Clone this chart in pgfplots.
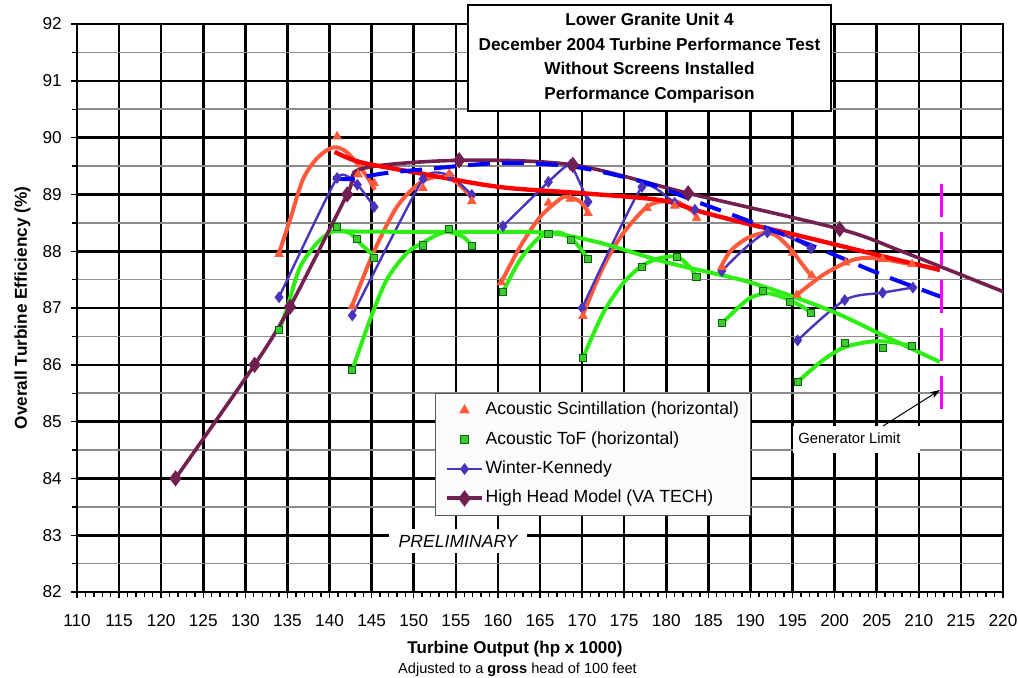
\documentclass[border=0pt]{standalone}
\usepackage{fontspec}
\setmainfont{Liberation Sans}
\usepackage{pgfplots}
\pgfplotsset{compat=1.18}
\usetikzlibrary{arrows.meta}
\definecolor{asc}{HTML}{FF5A3C}
\definecolor{tofl}{HTML}{2EEE14}
\definecolor{toff}{HTML}{3CCB2D}
\definecolor{tofe}{HTML}{0A640A}
\definecolor{wk}{HTML}{4B33BB}
\definecolor{hh}{HTML}{722050}
\definecolor{mag}{HTML}{FF00FF}
\begin{document}
\begin{tikzpicture}
\path[use as bounding box] (0,0) rectangle (509.5pt,338.5pt);
\begin{axis}[
  at={(38.5pt,42.5pt)}, anchor=south west,
  scale only axis, width=463pt, height=284pt,
  xmin=110, xmax=220, ymin=82, ymax=92,
  xtick={110,115,...,220}, ytick={82,83,...,92},
  minor x tick num=4, minor y tick num=1,
  xmajorgrids, ymajorgrids, yminorgrids,
  major grid style={black, line width=1.3pt},
  minor grid style={black!45, line width=0.75pt},
  axis line style={black, line width=1.3pt},
  tick align=outside, xtick pos=bottom, ytick pos=left,
  major tick length=3pt, minor tick length=2.5pt,
  tick style={black, line width=0.7pt},
  ticklabel style={font=\fontsize{8.6}{10}\selectfont},
  /pgf/number format/assume math mode=true,
  xticklabel style={yshift=-4.6pt},
  yticklabel style={xshift=-1.1pt},
  legend cell align=left,
  legend style={at={(0.3866,0.3504)}, anchor=north west, draw=black!65, line width=0.5pt,
    fill=black!1.5, font=\fontsize{8.8}{10.5}\selectfont, inner xsep=5pt, inner ysep=2.5pt,
    row sep=2.9pt, nodes={inner xsep=1pt, inner ysep=1.5pt, text height=6.6pt, text depth=2.2pt}},
]
% Acoustic Scintillation fitted curves
\addplot[asc, line width=2pt, smooth, no marks, forget plot] coordinates {(134,87.97) (135.3,88.55) (136.8,89.25) (138.3,89.6) (139.7,89.78) (140.8,89.83) (142,89.75) (143.4,89.52) (144.5,89.3) (145.4,89.08)};
\addplot[asc, line width=2pt, smooth, no marks, forget plot] coordinates {(142.7,87.05) (145.2,87.97) (148,88.78) (150.7,89.2) (152.8,89.31) (154.7,89.25) (156.3,89.04) (156.9,88.93)};
\addplot[asc, line width=2pt, smooth, no marks, forget plot] coordinates {(160.3,87.42) (162.6,88.07) (165,88.6) (167.4,88.92) (168.3,88.96) (169.8,88.87) (170.7,88.69)};
\addplot[asc, line width=2pt, smooth, no marks, forget plot] coordinates {(170.1,86.88) (172.5,87.72) (174.9,88.32) (177.7,88.78) (179.6,88.88) (181.3,88.87) (183.2,88.69) (183.8,88.55)};
\addplot[asc, line width=2pt, smooth, no marks, forget plot] coordinates {(186.5,87.72) (187.6,88.0) (189.5,88.22) (191.5,88.32) (193,88.28) (194.7,88.05) (196,87.8) (197.3,87.55)};
\addplot[asc, line width=2pt, smooth, no marks, forget plot] coordinates {(195.5,87.23) (198.6,87.58) (201.5,87.81) (203.4,87.88) (205.7,87.86) (208,87.8) (209.2,87.77)};
% Acoustic ToF fitted curves
\addplot[tofl, line width=2pt, smooth, no marks, forget plot] coordinates {(134,86.6) (135,87.02) (136.5,87.72) (138.5,88.14) (140,88.32) (140.9,88.36) (142.4,88.32) (143.9,88.1) (145.2,87.93)};
\addplot[tofl, line width=2pt, smooth, no marks, forget plot] coordinates {(142.7,85.91) (144.8,86.79) (146.8,87.5) (149.2,87.97) (151.1,88.15) (152.8,88.29) (154.1,88.34) (155.9,88.25) (156.9,88.09)};
\addplot[tofl, line width=2pt, smooth, no marks, forget plot] coordinates {(160.6,87.28) (162.6,87.84) (165,88.25) (167.2,88.33) (168.7,88.22) (169.8,88.05) (170.7,87.86)};
\addplot[tofl, line width=2pt, smooth, no marks, forget plot] coordinates {(170.1,86.12) (172.5,86.91) (174.9,87.44) (177.1,87.74) (179.3,87.88) (181.3,87.9) (182.8,87.72) (183.6,87.54)};
\addplot[tofl, line width=2pt, smooth, no marks, forget plot] coordinates {(186.6,86.73) (188.5,87.0) (190,87.18) (192,87.26) (194,87.18) (196.2,87.02) (197.2,86.92)};
\addplot[tofl, line width=2pt, smooth, no marks, forget plot] coordinates {(195.6,85.7) (198.6,86.08) (201.2,86.31) (204.4,86.41) (206.8,86.4) (209.2,86.33)};
% Winter-Kennedy
\addplot[wk, line width=1.2pt, smooth, tension=0.3, mark=diamond*, mark size=2pt, forget plot] coordinates {(134.0,87.19) (140.9,89.29) (143.3,89.17) (145.3,88.78)};
\addplot[wk, line width=1.2pt, smooth, tension=0.3, mark=diamond*, mark size=2pt, forget plot] coordinates {(142.7,86.87) (151.1,89.27) (154.3,89.33) (156.9,88.99)};
\addplot[wk, line width=1.2pt, smooth, tension=0.3, mark=diamond*, mark size=2pt, forget plot] coordinates {(160.6,88.44) (166.0,89.22) (168.6,89.52) (170.7,88.87)};
\addplot[wk, line width=1.2pt, smooth, tension=0.3, mark=diamond*, mark size=2pt, forget plot] coordinates {(170.0,87.0) (177.1,89.13) (181.0,88.85) (183.4,88.73)};
\addplot[wk, line width=1.2pt, smooth, mark=diamond*, mark size=2pt, forget plot] coordinates {(186.6,87.65) (192.0,88.33) (197.2,88.05)};
\addplot[wk, line width=1.2pt, smooth, mark=diamond*, mark size=2pt, forget plot] coordinates {(195.6,86.43) (201.2,87.14) (205.7,87.27) (209.3,87.36)};
% High Head Model
\addplot[hh, line width=1.8pt, smooth, mark=diamond*, mark size=2.6pt, mark indices={1,2,3,4,6,7,8,9}, forget plot] coordinates {(121.7,84.0) (131.1,86.0) (135.3,87.02) (142.1,89.0) (143.8,89.45) (155.4,89.6) (168.9,89.52) (182.6,89.02) (200.6,88.39) (208.1,87.99) (221.5,87.2)};
% summary lines
\addplot[red, line width=2.2pt, smooth, no marks, forget plot] coordinates {(140.6,89.75) (143.6,89.57) (150.4,89.38) (160.2,89.13) (170.1,89.02) (179.3,88.9) (184,88.7) (190,88.47) (195,88.3) (200,88.12) (206,87.9) (212.5,87.67)};
\addplot[blue, line width=2pt, dash pattern=on 11pt off 6pt, smooth, no marks, forget plot] coordinates {(140.4,89.29) (142.4,89.27) (146.4,89.37) (150.4,89.43) (160.2,89.55) (168.9,89.49) (177.7,89.2) (184,88.85) (190,88.52) (198.6,88.02) (205.7,87.58) (213.7,87.14)};
\addplot[tofl, line width=2pt, smooth, no marks, forget plot] coordinates {(140.4,88.35) (150,88.34) (160.2,88.34) (166.2,88.32) (172.1,88.15) (180.1,87.8) (190,87.45) (199.4,86.96) (206,86.5) (212.5,86.05)};
% measured points
\addplot[only marks, mark=triangle*, mark size=2.4pt, color=asc, forget plot] coordinates {(134.0,87.95) (140.9,90.02) (143.4,89.35) (145.3,89.2) (142.7,87.03) (151.1,89.11) (154.2,89.36) (156.9,88.88) (160.4,87.45) (166.0,88.85) (168.6,88.92) (170.7,88.67) (170.1,86.86) (177.7,88.76) (181.0,88.8) (183.6,88.58) (186.6,87.72) (195.0,87.97) (197.3,87.57) (195.5,87.23) (201.3,87.8) (205.7,87.86) (209.2,87.77)};
\addplot[only marks, mark=square*, mark size=1.8pt, mark options={fill=toff, draw=tofe, line width=0.5pt}, forget plot] coordinates {(134.0,86.61) (140.9,88.43) (143.3,88.21) (145.3,87.88) (142.7,85.91) (151.1,88.1) (154.2,88.39) (156.9,88.09) (160.6,87.28) (166.0,88.3) (168.7,88.2) (170.7,87.86) (170.1,86.12) (177.1,87.72) (181.3,87.9) (183.6,87.54) (186.6,86.73) (191.5,87.3) (194.7,87.1) (197.2,86.91) (195.6,85.7) (201.2,86.38) (205.7,86.3) (209.2,86.33)};
% generator limit
\addplot[mag, line width=1.5pt, dash pattern=on 16.5pt off 7.5pt, forget plot] coordinates {(212.65,89.18) (212.65,85.15)};
% legend
\addlegendimage{only marks, mark=triangle*, mark size=2.6pt, color=asc}
\addlegendentry{Acoustic Scintillation (horizontal)}
\addlegendimage{only marks, mark=square*, mark size=2pt, mark options={fill=toff, draw=tofe, line width=0.5pt}}
\addlegendentry{Acoustic ToF (horizontal)}
\addlegendimage{wk, line width=1.2pt, mark=diamond*, mark size=2pt}
\addlegendentry{Winter-Kennedy}
\addlegendimage{hh, line width=2pt, mark=diamond*, mark size=2.5pt}
\addlegendentry{High Head Model (VA TECH)}
\end{axis}
% title box
\node[draw=black, line width=0.6pt, fill=white, minimum width=181.5pt, minimum height=53pt, align=center,
  font=\fontsize{8.6}{12.25}\selectfont\bfseries, inner sep=0pt] at (324.75pt,309.5pt)
  {Lower Granite Unit 4\\December 2004 Turbine Performance Test\\Without Screens Installed\\Performance Comparison};
% preliminary
\node[fill=white, minimum width=69pt, minimum height=12pt, inner sep=0pt, font=\fontsize{8.8}{10}\selectfont\itshape] at (229pt,68pt) {PRELIMINARY};
% generator limit label
\fill[white] (396.5pt,112pt) rectangle (460pt,125.5pt);
\node[anchor=west, font=\fontsize{7.4}{9}\selectfont, inner sep=0pt] at (399pt,119.5pt) {Generator Limit};
\draw[-{Stealth[length=5pt,width=3.5pt]}, line width=0.5pt] (441.5pt,125.5pt) -- (470pt,143.5pt);
% axis labels
\node[anchor=base, font=\fontsize{8.5}{10}\selectfont\bfseries] at (257.5pt,12pt) {Turbine Output (hp x 1000)};
\node[anchor=base, font=\fontsize{7.3}{9}\selectfont] at (258.75pt,2pt) {Adjusted to a \textbf{gross} head of 100 feet};
\node[rotate=90, anchor=base, font=\fontsize{8.6}{10}\selectfont\bfseries] at (13.5pt,184.5pt) {Overall Turbine Efficiency (\%)};
\end{tikzpicture}
\end{document}
